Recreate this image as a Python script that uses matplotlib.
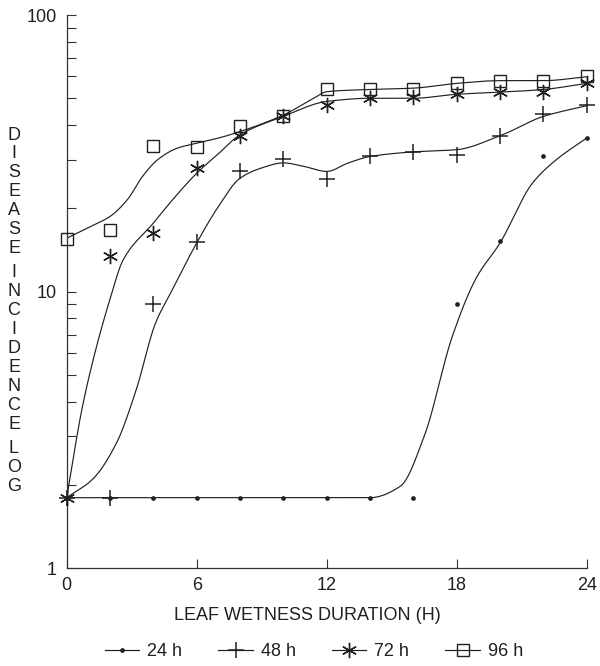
import numpy as np
import matplotlib
matplotlib.use("Agg")
import matplotlib.pyplot as plt
from matplotlib.lines import Line2D
from matplotlib.ticker import NullFormatter

plt.rcParams['font.family'] = ['Liberation Sans', 'DejaVu Sans']

# observed points (leaf wetness hours vs disease incidence)
hours = [0, 2, 4, 6, 8, 10, 12, 14, 16, 18, 20, 22, 24]
inc_24 = [1.8, 1.8, 1.8, 1.8, 1.8, 1.8, 1.8, 1.8, 1.8, 9.0, 15.3, 31.0, 36.0]
inc_48 = [1.8, 1.8, 9.0, 15.1, 27.3, 30.1, 25.5, 30.8, 32.1, 31.2, 36.6, 43.8, 47.3]
inc_72 = [1.8, 13.4, 16.3, 28.0, 36.6, 43.0, 47.3, 50.0, 50.5, 51.9, 52.9, 52.9, 56.9]
inc_96 = [15.5, 16.7, 33.5, 33.2, 39.8, 43.0, 53.9, 53.9, 53.9, 56.9, 57.5, 57.5, 60.2]

# fitted curves
fit24_x = [0, 14.0, 15.4, 16.5, 17.8, 18.9, 20.0, 21.5, 22.6, 24.0]
fit24_y = [1.8, 1.8, 1.98, 3.0, 6.9, 11.2, 15.0, 24.7, 30.0, 35.9]
fit48_x = [0, 1.2, 2.3, 3.2, 4.1, 4.8, 6.0, 7.0, 8.0, 9.0, 10.0, 11.0, 12.0, 13.0, 14.0,
           16.0, 18.0, 20.0, 22.0, 24.0]
fit48_y = [1.8, 2.1, 2.84, 4.4, 7.7, 9.9, 15.0, 20.3, 25.7, 28.0, 29.2, 28.3, 27.2, 29.2, 30.8,
           32.0, 32.6, 36.6, 43.0, 47.0]
fit72_x = [0, 0.7, 1.3, 2.0, 2.6, 4.0, 5.0, 6.0, 7.0, 8.0, 10.0, 12.0, 14.0, 16.0,
           18.0, 20.0, 22.0, 24.0]
fit72_y = [1.8, 3.75, 6.0, 9.4, 13.0, 17.7, 22.0, 26.8, 31.5, 36.9, 43.0, 48.7, 50.0, 50.0,
           51.7, 52.6, 53.8, 56.6]
fit96_x = [0, 1.1, 2.0, 2.8, 3.5, 4.2, 5.1, 6.0, 7.0, 8.0, 10.0, 11.4, 12.0, 14.0,
           16.0, 18.0, 20.0, 22.0, 24.0]
fit96_y = [15.6, 17.2, 18.7, 21.5, 26.1, 30.0, 33.0, 34.4, 35.9, 37.9, 43.5, 50.0, 52.8, 53.8,
           54.4, 56.6, 57.9, 57.9, 59.8]

series = ['24 h', '48 h', '72 h', '96 h']
ylabel = 'DISEASE INCIDENCE LOG'

INK = '#231f20'


def pchip(x, y, xn):
    # monotone cubic through the knots, so flat parts stay flat
    x = np.asarray(x, float)
    y = np.asarray(y, float)
    h = np.diff(x)
    d = np.diff(y) / h
    m = np.zeros_like(y)
    m[0], m[-1] = d[0], d[-1]
    for k in range(1, len(x) - 1):
        if d[k - 1] * d[k] > 0:
            w1 = 2 * h[k] + h[k - 1]
            w2 = h[k] + 2 * h[k - 1]
            m[k] = (w1 + w2) / (w1 / d[k - 1] + w2 / d[k])
    i = np.clip(np.searchsorted(x, xn) - 1, 0, len(h) - 1)
    t = (xn - x[i]) / h[i]
    return ((2 * t**3 - 3 * t**2 + 1) * y[i] + (t**3 - 2 * t**2 + t) * h[i] * m[i]
            + (-2 * t**3 + 3 * t**2) * y[i + 1] + (t**3 - t**2) * h[i] * m[i + 1])


fig = plt.figure(figsize=(6, 6.66), dpi=100)
ax = fig.add_axes([66.7 / 600, 1 - 568.3 / 666, 520 / 600, 553.3 / 666])

xs = np.linspace(0, 24, 600)
for fx, fy in [(fit24_x, fit24_y), (fit48_x, fit48_y), (fit72_x, fit72_y), (fit96_x, fit96_y)]:
    ax.plot(xs, 10 ** pchip(fx, np.log10(fy), xs), color=INK, lw=0.85, zorder=2)

styles = [
    dict(marker='o', ms=3.4, mew=0, mfc=INK),
    dict(marker='+', ms=11, mew=1.1),
    dict(marker=(6, 2, 0), ms=11, mew=1.0),
    dict(marker='s', ms=9, mew=1.0, mfc='none'),
]
handles = []
for vals, st, name in zip([inc_24, inc_48, inc_72, inc_96], styles, series):
    ax.plot(hours, vals, ls='none', color=INK, mec=INK, zorder=3, clip_on=False, **st)
    handles.append(Line2D([], [], color=INK, lw=0.85, mec=INK, label=name, **st))

ax.set_yscale('log')
ax.set_ylim(1, 100)
ax.set_xlim(0, 24)
ax.set_xticks([0, 6, 12, 18, 24])
ax.set_yticks([1, 10, 100])
ax.set_yticklabels(['1', '10', '100'])
ax.yaxis.set_minor_formatter(NullFormatter())

for s in ['top', 'right']:
    ax.spines[s].set_visible(False)
for s in ['left', 'bottom']:
    ax.spines[s].set_linewidth(0.9)
    ax.spines[s].set_color('#333333')

ax.tick_params(which='both', direction='in', length=6.5, width=0.8, color='#333333',
               labelsize=13, labelcolor=INK)
ax.tick_params(axis='x', pad=6)
ax.tick_params(axis='y', pad=7)

ax.set_xlabel('LEAF WETNESS DURATION (H)', fontsize=13, color=INK)
ax.xaxis.label.set_va('center')
ax.xaxis.set_label_coords(0.4625, (568.3 - 615) / 553.3)

# y label written as stacked letters
y = 135.0
for ch in ylabel:
    if ch == ' ':
        y += 24.5 - 18.9
        continue
    fig.text(14 / 600, 1 - y / 666, ch, fontsize=13, color=INK, ha='center', va='center')
    y += 18.9

ax.legend(handles=handles, ncol=4, loc='center', bbox_to_anchor=(314 / 600, 1 - 652 / 666),
          bbox_transform=fig.transFigure, frameon=False, fontsize=13, handlelength=1.9,
          handletextpad=0.45, columnspacing=2.0, borderpad=0, labelcolor=INK)

fig.savefig('out.png', dpi=100)
